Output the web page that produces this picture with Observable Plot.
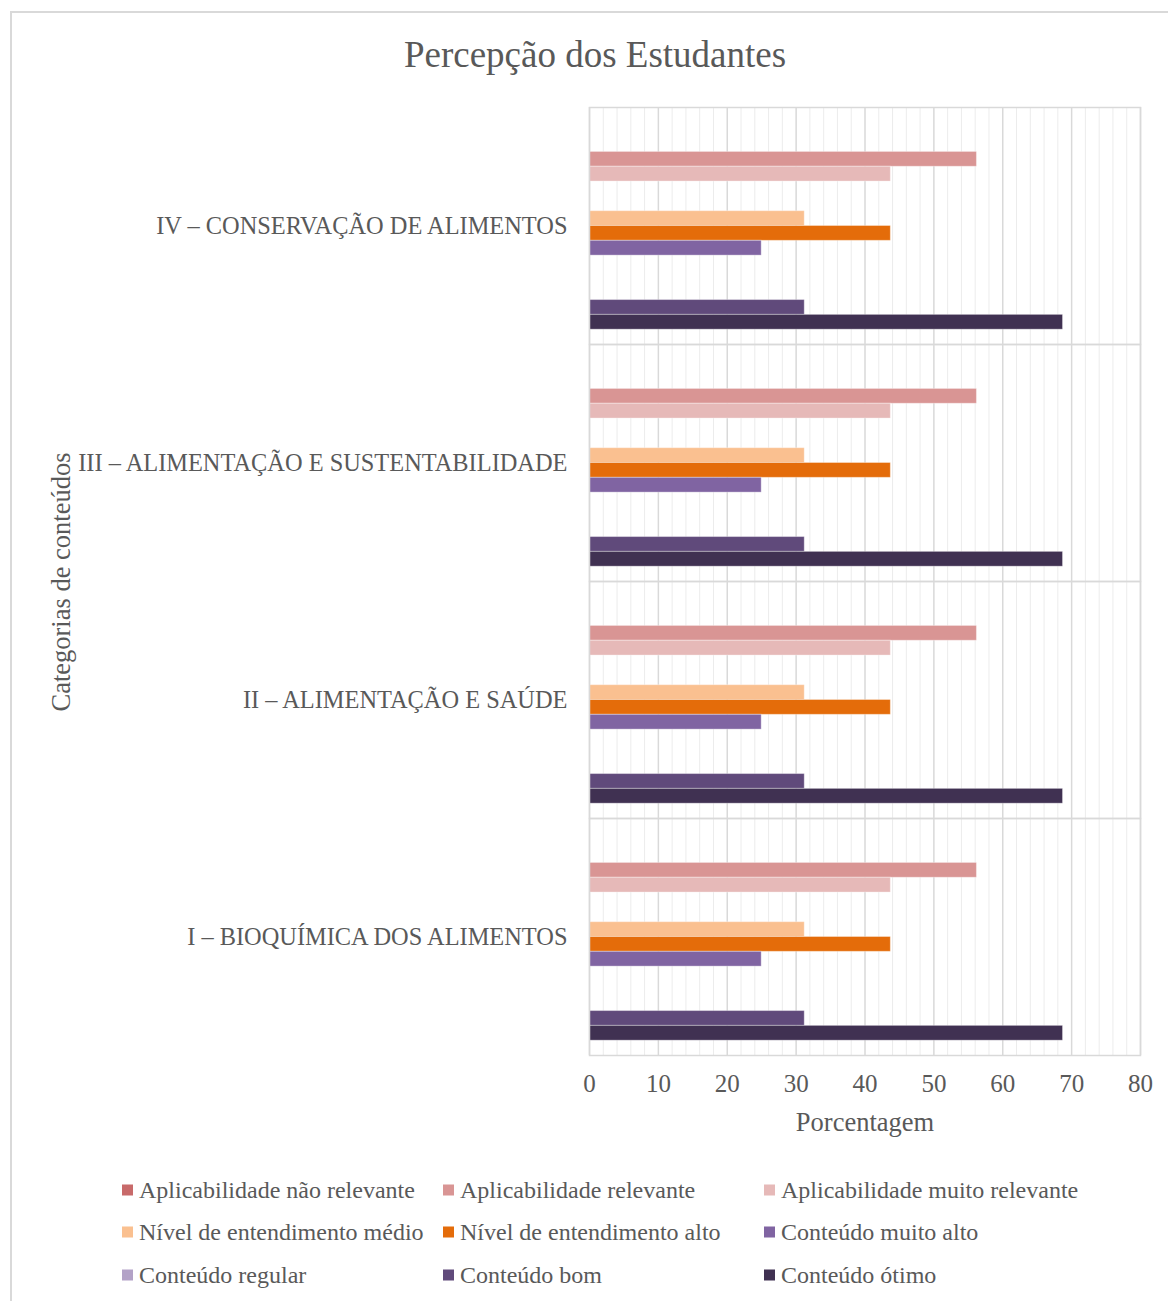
<!DOCTYPE html>
<html>
<head>
<meta charset="utf-8">
<script src="https://cdn.jsdelivr.net/npm/d3@7"></script>
<script src="https://cdn.jsdelivr.net/npm/@observablehq/plot@0.6"></script>
<style>
  html, body { margin: 0; padding: 0; background: #fff; overflow: hidden; }
  body { width: 1168px; height: 1301px; position: relative; font-family: "Liberation Serif", "Times New Roman", serif; color: #595959; }
  .frame { position: absolute; left: 10px; top: 11px; width: 1200px; height: 1330px; border: 2px solid #d9d9d9; box-sizing: border-box; }
  .title { position: absolute; left: 295px; width: 600px; top: 34px; text-align: center; font-size: 37px; line-height: 42px; }
  .ylabel { position: absolute; left: 61px; top: 582px; font-size: 26.5px; white-space: nowrap; transform: translate(-50%, -50%) rotate(-90deg); }
  .xlabel { position: absolute; left: 865px; top: 1122px; font-size: 26.5px; white-space: nowrap; transform: translate(-50%, -50%); }
  #chart { position: absolute; left: 0; top: 0; }
  .leg { position: absolute; font-size: 24px; white-space: nowrap; transform: translateY(-50%); display: flex; align-items: center; }
  .sw { width: 11px; height: 11px; margin-right: 6px; display: inline-block; }
</style>
</head>
<body>
<div class="frame"></div>
<div id="chart"></div>
<div class="title">Percepção dos Estudantes</div>
<div class="ylabel">Categorias de conteúdos</div>
<div class="xlabel">Porcentagem</div>
<div id="legend"></div>
<script>
// ---- data ----
const categories = [
  "I – BIOQUÍMICA DOS ALIMENTOS",
  "II – ALIMENTAÇÃO E SAÚDE",
  "III – ALIMENTAÇÃO E SUSTENTABILIDADE",
  "IV – CONSERVAÇÃO DE ALIMENTOS"
];
const series = [
  "Aplicabilidade não relevante",
  "Aplicabilidade relevante",
  "Aplicabilidade muito relevante",
  "Nível de entendimento médio",
  "Nível de entendimento alto",
  "Conteúdo muito alto",
  "Conteúdo regular",
  "Conteúdo bom",
  "Conteúdo ótimo"
];
const colors = ["#C86A6A", "#D99594", "#E6B9B8", "#FAC090", "#E46C0A", "#8064A2", "#B3A2C7", "#604A7B", "#403152"];
// values per category (I, II, III, IV)
const aplicNaoRelevante   = [0, 0, 0, 0];
const aplicRelevante      = [56.25, 56.25, 56.25, 56.25];
const aplicMuitoRelevante = [43.75, 43.75, 43.75, 43.75];
const nivelMedio          = [31.25, 31.25, 31.25, 31.25];
const nivelAlto           = [43.75, 43.75, 43.75, 43.75];
const conteudoMuitoAlto   = [25, 25, 25, 25];
const conteudoRegular     = [0, 0, 0, 0];
const conteudoBom         = [31.25, 31.25, 31.25, 31.25];
const conteudoOtimo       = [68.75, 68.75, 68.75, 68.75];
const xTicks = [0, 10, 20, 30, 40, 50, 60, 70, 80];

// ---- build table ----
const valueArrays = [aplicNaoRelevante, aplicRelevante, aplicMuitoRelevante, nivelMedio, nivelAlto,
                     conteudoMuitoAlto, conteudoRegular, conteudoBom, conteudoOtimo];
const data = [];
categories.forEach((c, ci) => {
  series.forEach((s, si) => data.push({category: c, series: s, value: valueArrays[si][ci]}));
});
// slot order inside each category band (empty slots for hidden series)
const slots = ["_a", "_b", series[0], series[1], series[2], "_c", "_d", series[3], series[4], series[5],
               "_e", "_f", series[6], series[7], series[8], "_g"];
const minorTicks = d3.range(0, 81, 2).filter(d => d % 10 !== 0);

const chart = Plot.plot({
  width: 1168,
  height: 1100,
  marginLeft: 589,
  marginRight: 28,
  marginTop: 107,
  marginBottom: 45,
  style: {fontFamily: "'Liberation Serif', 'Times New Roman', serif", fontSize: "24px", color: "#595959", background: "transparent", overflow: "visible"},
  x: {domain: [0, 80], label: null},
  y: {domain: slots, axis: null, padding: 0, round: false, align: 0.8},
  fy: {domain: categories.slice().reverse(), padding: 0, label: null, round: false},
  color: {domain: series, range: colors},
  marks: [
    Plot.ruleX(minorTicks, {stroke: "#ececec", strokeWidth: 1}),
    Plot.ruleX(xTicks, {stroke: "#d9d9d9", strokeWidth: 1.5}),
    Plot.barX(data, {x: "value", y: "series", fy: "category", fill: "series", stroke: "white", strokeOpacity: 0.35, strokeWidth: 1}),
    Plot.frame({stroke: "#d9d9d9", strokeWidth: 1.5}),
    Plot.axisX(xTicks, {tickSize: 0, tickPadding: 19, fontSize: 25, label: null}),
    Plot.axisFy({anchor: "left", tickSize: 0, tickPadding: 22, fontSize: 24.4, label: null})
  ]
});
document.getElementById("chart").appendChild(chart);

// ---- legend ----
const legCols = [122, 443, 764];
const legRows = [1190, 1232, 1275];
const legend = document.getElementById("legend");
series.forEach((s, i) => {
  const d = document.createElement("div");
  d.className = "leg";
  d.style.left = legCols[i % 3] + "px";
  d.style.top = legRows[Math.floor(i / 3)] + "px";
  d.innerHTML = `<span class="sw" style="background:${colors[i]}"></span><span>${s}</span>`;
  legend.appendChild(d);
});
</script>
</body>
</html>
